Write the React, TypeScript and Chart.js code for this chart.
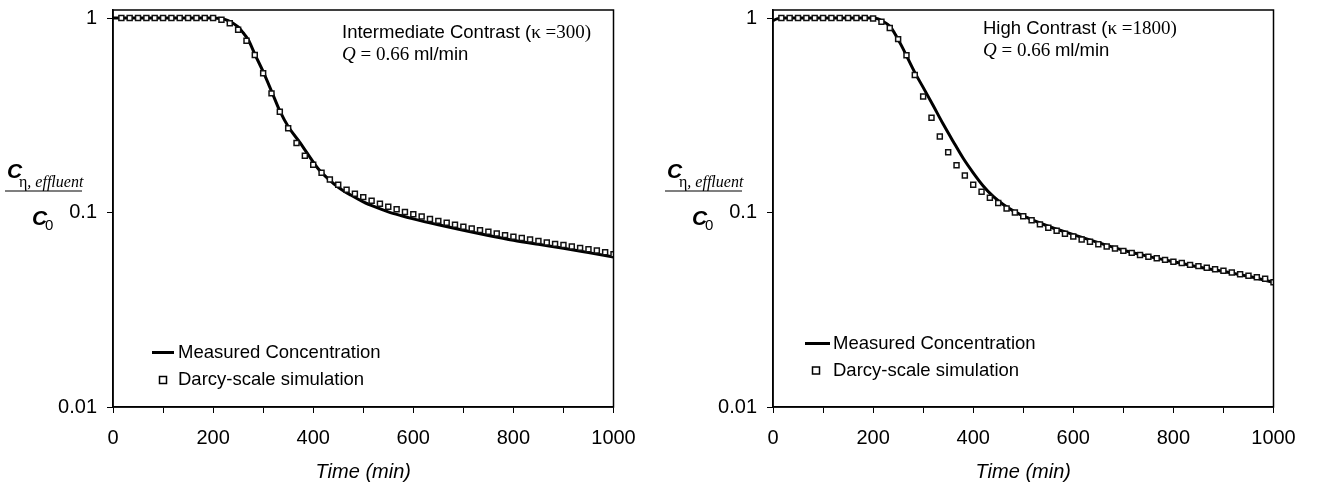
import React, { useEffect, useRef } from "react";
import { Chart, registerables } from "chart.js";
Chart.register(...registerables);

// ---------- data ----------
const simTimes = [
  16.7, 33.3, 50, 66.7, 83.3, 100, 116.7, 133.3, 150, 166.7, 183.3, 200,
  216.7, 233.3, 250, 266.7, 283.3, 300, 316.7, 333.3, 350, 366.7, 383.3, 400,
  416.7, 433.3, 450, 466.7, 483.3, 500, 516.7, 533.3, 550, 566.7, 583.3, 600,
  616.7, 633.3, 650, 666.7, 683.3, 700, 716.7, 733.3, 750, 766.7, 783.3, 800,
  816.7, 833.3, 850, 866.7, 883.3, 900, 916.7, 933.3, 950, 966.7, 983.3, 1000,
];

const simIntermediate = [
  1, 1, 1, 1, 1, 1, 1, 1, 1, 1, 1, 1,
  0.98, 0.94, 0.87, 0.765, 0.645, 0.52, 0.41, 0.33, 0.271, 0.228, 0.196, 0.176,
  0.16, 0.148, 0.139, 0.131, 0.125, 0.12, 0.115, 0.111, 0.107, 0.104, 0.1007, 0.098,
  0.0953, 0.0927, 0.0906, 0.0885, 0.0865, 0.0845, 0.0828, 0.0812, 0.0796, 0.078, 0.0765, 0.075,
  0.0739, 0.0727, 0.0713, 0.0702, 0.069, 0.068, 0.0669, 0.0658, 0.0648, 0.0638, 0.0625, 0.061,
];

const simHigh = [
  1, 1, 1, 1, 1, 1, 1, 1, 1, 1, 1, 0.995,
  0.957, 0.888, 0.779, 0.644, 0.51, 0.395, 0.307, 0.246, 0.204, 0.175, 0.155, 0.139,
  0.128, 0.119, 0.112, 0.105, 0.1, 0.0956, 0.0913, 0.0869, 0.0835, 0.0806, 0.0777, 0.0753,
  0.0727, 0.0707, 0.0687, 0.0669, 0.0653, 0.0635, 0.062, 0.0605, 0.0593, 0.0582, 0.0571, 0.0558,
  0.055, 0.0538, 0.053, 0.052, 0.0511, 0.0502, 0.0492, 0.0482, 0.0473, 0.0465, 0.0456, 0.0438,
];

const measIntermediateT = [
  0, 100, 200, 215, 230, 250, 260, 270, 284, 300, 317, 334, 350, 374, 388, 410, 430, 450,
  475, 500, 525, 550, 575, 600, 650, 700, 750, 800, 850, 900, 950, 1000,
];
const measIntermediate = [
  1, 1, 1, 0.995, 0.97, 0.9, 0.84, 0.775, 0.647, 0.53, 0.419, 0.33, 0.277, 0.228, 0.202, 0.168, 0.149, 0.135,
  0.123, 0.1135, 0.1065, 0.1008, 0.0965, 0.0928, 0.0865, 0.081, 0.0762, 0.072, 0.0686, 0.0655, 0.0622, 0.059,
];

const measHighT = [
  0, 8, 20, 100, 200, 210, 220, 234, 254, 284, 300, 320, 340, 360, 380, 400, 420, 440, 460, 480, 500,
  550, 600, 650, 700, 750, 800, 850, 900, 950, 1000,
];
const measHigh = [
  0.97, 0.99, 1, 1, 1, 0.99, 0.96, 0.905, 0.743, 0.521, 0.44, 0.355, 0.285, 0.232, 0.19, 0.16, 0.137, 0.121, 0.11, 0.102, 0.096,
  0.085, 0.077, 0.07, 0.064, 0.0595, 0.0558, 0.0525, 0.0497, 0.047, 0.0438,
];

const yTickValues = [0.01, 0.1, 1];
const yTickLabels = ["0.01", "0.1", "1"];
const xTickLabels = ["0", "200", "400", "600", "800", "1000"];

const legendLabels = ["Measured Concentration", "Darcy-scale simulation"];

// ---------- helpers ----------
const SANS = "'Liberation Sans', Arial, sans-serif";
const SERIF = "'Liberation Serif', 'Times New Roman', serif";

type Run = { text: string; font: string };

function drawRuns(ctx: CanvasRenderingContext2D, x: number, y: number, runs: Run[]) {
  let cx = x;
  for (const r of runs) {
    ctx.font = r.font;
    ctx.fillText(r.text, cx, y);
    cx += ctx.measureText(r.text).width;
  }
}

type Deco = {
  ann: { x: number; y1: number; y2: number; line1: Run[] };
  legend: { lx1: number; lx2: number; ly: number; tx: number; sx: number; sy: number };
};

const decoPlugin = {
  id: "deco",
  afterDraw(chart: any) {
    const deco: Deco = chart.options.plugins.deco;
    const { ctx, chartArea: a } = chart;
    ctx.save();
    // box
    ctx.strokeStyle = "#000";
    ctx.lineWidth = 1.5;
    ctx.strokeRect(a.left, a.top, a.right - a.left, a.bottom - a.top);

    ctx.fillStyle = "#000";
    ctx.textBaseline = "alphabetic";
    ctx.textAlign = "left";
    // annotation
    drawRuns(ctx, deco.ann.x, deco.ann.y1, deco.ann.line1);
    drawRuns(ctx, deco.ann.x, deco.ann.y2, [
      { text: "Q", font: `italic 19px ${SERIF}` },
      { text: " = 0.66 ", font: `19px ${SERIF}` },
      { text: "ml/min", font: `18.5px ${SANS}` },
    ]);

    // legend
    const L = deco.legend;
    ctx.lineWidth = 3;
    ctx.beginPath();
    ctx.moveTo(L.lx1, L.ly);
    ctx.lineTo(L.lx2, L.ly);
    ctx.stroke();
    ctx.lineWidth = 1.5;
    ctx.fillStyle = "#fff";
    ctx.fillRect(L.sx - 3.5, L.sy - 3.5, 7, 7);
    ctx.strokeRect(L.sx - 3.5, L.sy - 3.5, 7, 7);
    ctx.fillStyle = "#000";
    ctx.font = `18.5px ${SANS}`;
    ctx.textBaseline = "middle";
    ctx.fillText(legendLabels[0], L.tx, L.ly);
    ctx.fillText(legendLabels[1], L.tx, L.sy);

    // y-axis label as a fraction
    ctx.textBaseline = "alphabetic";
    ctx.font = `italic bold 21px ${SANS}`;
    ctx.fillText("C", 7, 178);
    drawRuns(ctx, 19, 187, [
      { text: "η", font: `16px ${SERIF}` },
      { text: ", effluent", font: `italic 16px ${SERIF}` },
    ]);
    ctx.lineWidth = 1.2;
    ctx.beginPath();
    ctx.moveTo(5, 191);
    ctx.lineTo(82, 191);
    ctx.stroke();
    ctx.font = `italic bold 21px ${SANS}`;
    ctx.fillText("C", 32, 225);
    ctx.font = `15px ${SANS}`;
    ctx.fillText("0", 45, 230);
    ctx.restore();
  },
};

function makeConfig(
  simY: number[],
  measT: number[],
  measY: number[],
  deco: Deco
): any {
  return {
    type: "line",
    data: {
      datasets: [
        {
          label: legendLabels[1],
          data: simTimes.map((t, i) => ({ x: t, y: simY[i] })),
          showLine: false,
          pointStyle: "rect",
          pointRadius: 3.5,
          pointBorderWidth: 1.5,
          pointBackgroundColor: "#fff",
          pointBorderColor: "#111",
          borderColor: "#111",
          backgroundColor: "#fff",
        },
        {
          label: legendLabels[0],
          data: measT.map((t, i) => ({ x: t, y: measY[i] })),
          borderColor: "#000",
          borderWidth: 3,
          pointRadius: 0,
          cubicInterpolationMode: "monotone",
          fill: false,
        },
      ],
    },
    options: {
      animation: false,
      responsive: false,
      maintainAspectRatio: false,
      events: [],
      layout: { padding: { left: 0, right: 46.5, top: 10, bottom: 0 } },
      plugins: {
        legend: { display: false },
        tooltip: { enabled: false },
        title: { display: false },
        deco,
      },
      scales: {
        x: {
          type: "linear",
          min: 0,
          max: 1000,
          afterFit: (s: any) => {
            s.height = 82;
            s.paddingLeft = 0;
            s.paddingRight = 0;
          },
          ticks: {
            stepSize: 100,
            autoSkip: false,
            maxRotation: 0,
            padding: 13,
            color: "#000",
            font: { family: SANS, size: 20 },
            callback: (v: number) => {
              const s = String(v);
              return xTickLabels.includes(s) ? s : "";
            },
          },
          grid: {
            display: true,
            drawOnChartArea: false,
            drawTicks: true,
            tickLength: 6,
            color: "#000",
            lineWidth: 1,
          },
          border: { display: true, color: "#000", width: 1.5 },
          title: {
            display: true,
            text: "Time (min)",
            color: "#000",
            font: { family: SANS, size: 20, style: "italic" },
            padding: { top: 0, bottom: 5 },
          },
        },
        y: {
          type: "logarithmic",
          min: 0.01,
          max: 1.1,
          afterFit: (s: any) => {
            s.width = 113;
            s.paddingTop = 0;
            s.paddingBottom = 0;
          },
          afterBuildTicks: (s: any) => {
            s.ticks = yTickValues.map((v) => ({ value: v }));
          },
          ticks: {
            autoSkip: false,
            padding: 10,
            color: "#000",
            font: { family: SANS, size: 20 },
            callback: (v: number) => {
              const i = yTickValues.findIndex((t) => Math.abs(t - v) < 1e-9);
              return i >= 0 ? yTickLabels[i] : "";
            },
          },
          grid: {
            display: true,
            drawOnChartArea: false,
            drawTicks: true,
            tickLength: 6,
            color: "#000",
            lineWidth: 1,
          },
          border: { display: true, color: "#000", width: 1.5 },
        },
      },
    },
    plugins: [decoPlugin],
  };
}

function Panel(props: { config: any; left: number }) {
  const ref = useRef<HTMLCanvasElement | null>(null);
  useEffect(() => {
    if (!ref.current) return;
    const chart = new Chart(ref.current, props.config);
    return () => chart.destroy();
  }, []);
  return (
    <canvas
      ref={ref}
      width={660}
      height={489}
      style={{ position: "absolute", left: props.left, top: 0, width: 660, height: 489 }}
    />
  );
}

export default function App() {
  const leftCfg = makeConfig(simIntermediate, measIntermediateT, measIntermediate, {
    ann: {
      x: 342,
      y1: 38,
      y2: 60,
      line1: [
        { text: "Intermediate Contrast (", font: `18.5px ${SANS}` },
        { text: "κ =300)", font: `19px ${SERIF}` },
      ],
    },
    legend: { lx1: 152, lx2: 174, ly: 352.5, tx: 178, sx: 163, sy: 380 },
  });
  const rightCfg = makeConfig(simHigh, measHighT, measHigh, {
    ann: {
      x: 323,
      y1: 33.5,
      y2: 55.5,
      line1: [
        { text: "High Contrast (", font: `18.5px ${SANS}` },
        { text: "κ =1800)", font: `19px ${SERIF}` },
      ],
    },
    legend: { lx1: 145, lx2: 170, ly: 343.5, tx: 173, sx: 156, sy: 370.5 },
  });
  return (
    <div style={{ position: "absolute", left: 0, top: 0, width: 1320, height: 489, background: "#fff" }}>
      <Panel config={leftCfg} left={0} />
      <Panel config={rightCfg} left={660} />
    </div>
  );
}
